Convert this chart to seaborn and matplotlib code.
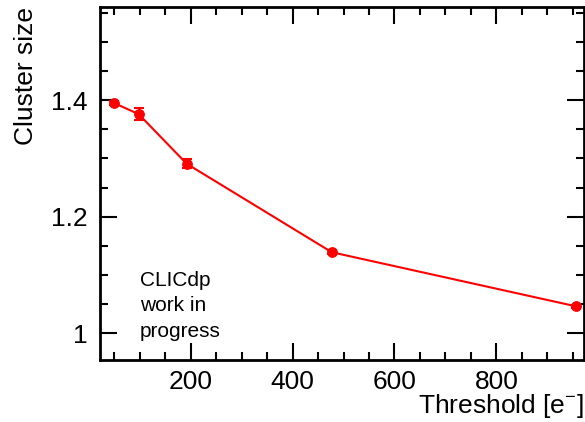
import matplotlib
matplotlib.use("Agg")
import matplotlib.pyplot as plt
import seaborn as sns
import pandas as pd
from matplotlib.ticker import MultipleLocator

threshold = [50, 98, 192, 477, 957]
cluster_size = [1.395, 1.376, 1.291, 1.139, 1.046]
cluster_err = [0.004, 0.010, 0.008, 0.003, 0.003]

sns.set_style("ticks")
plt.rcParams['font.family'] = ['Liberation Sans', 'DejaVu Sans']
plt.rcParams['mathtext.fontset'] = 'custom'
plt.rcParams['mathtext.rm'] = 'Liberation Sans'
plt.rcParams['text.color'] = 'black'
plt.rcParams['axes.labelcolor'] = 'black'

df = pd.DataFrame({"Threshold": threshold, "Cluster size": cluster_size})

fig = plt.figure(figsize=(5.85, 4.22), dpi=100)
ax = fig.add_axes([100/585, 62/422, 484/585, 353/422])

ax.errorbar(threshold, cluster_size, yerr=cluster_err, fmt='none', ecolor='#ff0000',
            elinewidth=1.5, capsize=3.5, capthick=1.5, zorder=3)
sns.lineplot(data=df, x="Threshold", y="Cluster size", ax=ax, color='#ff0000',
             marker='o', markersize=7, markeredgecolor='#ff0000', linewidth=1.5, zorder=4)

ax.set_xlim(22, 972)
ax.set_ylim(0.954, 1.56)
ax.xaxis.set_major_locator(MultipleLocator(200))
ax.xaxis.set_minor_locator(MultipleLocator(50))
ax.yaxis.set_major_locator(MultipleLocator(0.2))
ax.yaxis.set_minor_locator(MultipleLocator(0.05))
ax.set_xticks([200, 400, 600, 800])
ax.set_xticklabels(["200", "400", "600", "800"])
ax.set_yticks([1.0, 1.2, 1.4])
ax.set_yticklabels(["1", "1.2", "1.4"])

ax.tick_params(which='both', direction='in', top=True, right=True, width=1.5,
               colors='black', labelcolor='black')
ax.tick_params(which='major', length=12, labelsize=19, pad=9)
ax.tick_params(axis='x', which='major', pad=7)
ax.tick_params(which='minor', length=6)
for s in ax.spines.values():
    s.set_linewidth(2)
    s.set_color('black')

ax.set_xlabel("Threshold [e$^{-}$]", fontsize=19, loc='right')
ax.set_ylabel("Cluster size", fontsize=19, loc='top')
ax.xaxis.set_label_coords(1.0, -0.092)
ax.yaxis.set_label_coords(-0.128, 1.0)

ax.text(140/585, 1 - 337/422, "CLICdp\nwork in\nprogress", transform=fig.transFigure,
        fontsize=15, va='baseline', ha='left', linespacing=1.45, color='black')

fig.savefig("out.png", dpi=100)
